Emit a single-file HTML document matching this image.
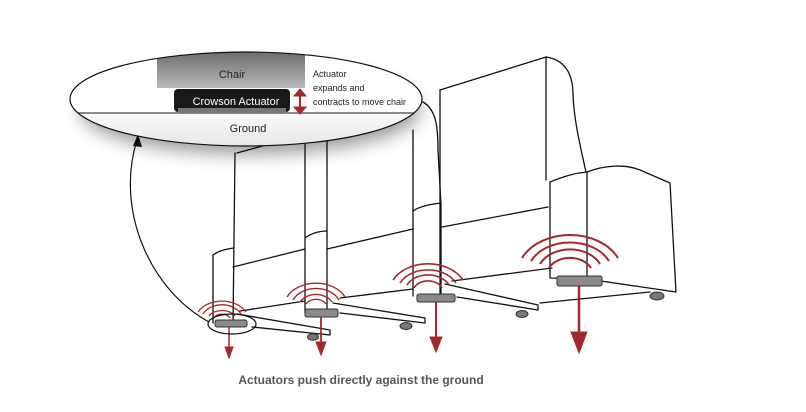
<!DOCTYPE html>
<html><head><meta charset="utf-8"><style>
html,body{margin:0;padding:0;background:#fff;width:806px;height:412px;overflow:hidden}
svg{display:block}
</style></head><body>
<svg width="806" height="412" viewBox="0 0 806 412" xmlns="http://www.w3.org/2000/svg" font-family="Liberation Sans, DejaVu Sans, sans-serif">
<defs>
<filter id="sh" x="-20%" y="-30%" width="140%" height="180%"><feGaussianBlur stdDeviation="9"/></filter>
<linearGradient id="gc" x1="0" y1="0" x2="0" y2="1"><stop offset="0" stop-color="#6a6a6a"/><stop offset="1" stop-color="#b8b8b8"/></linearGradient>
<linearGradient id="gg" x1="0" y1="0" x2="0" y2="1"><stop offset="0" stop-color="#fafafa"/><stop offset="1" stop-color="#dcdcdc"/></linearGradient>
</defs>

<!-- chair line art -->
<g fill="none" stroke="#111" stroke-width="1.3" stroke-linejoin="round" stroke-linecap="round">
  <!-- chair 4 back -->
  <path d="M440,90 L546,57 C566,60 573,75 573,95 C574,120 580,145 586,172"/>
  <path d="M546,57 L546,180"/>
  <path d="M440,90 L440,296"/>
  <!-- chair 4 seat -->
  <path d="M550,182 C565,176 575,173 587,172 C605,165 625,164 640,170 L670,183 L676,292 L587,279"/>
  <path d="M550,182 L550,278 L587,279 L587,172"/>
  <!-- chair 3 -->
  <path d="M423,102 C437,110 438,130 438,150 L441,205"/>
  <path d="M413,130 L413,296"/>
  <path d="M441,205 L441,296"/>
  <path d="M413,211 C420,206 432,204 441,203"/>
  <path d="M442,227 L548,207"/>
  <path d="M445,284 L538,305 L538,310 L457,297"/>
  <path d="M452,281 L552,268"/>
  <path d="M540,303 L650,292"/>
  <!-- chair 2 -->
  <path d="M305,140 L305,313"/>
  <path d="M327,130 L327,313"/>
  <path d="M305,238 C312,233 320,231 327,231"/>
  <path d="M327,249 L413,229"/>
  <path d="M333,303 L425,318 L425,323 L340,313"/>
  <path d="M340,298 L413,289"/>
  <!-- chair 1 -->
  <path d="M237,153 L273,143"/>
  <path d="M235,153 L233,325"/>
  <path d="M213,255 L213,323"/>
  <path d="M213,255 C220,250 227,249 234,248"/>
  <path d="M233,267 L305,249"/>
  <path d="M237,314 L330,330 L330,335 L252,327"/>
  <path d="M240,311 L305,301"/>
</g>

<!-- feet -->
<g fill="#8a8a8a" stroke="#333" stroke-width="1">
  <rect x="557" y="276" width="45" height="10" rx="2"/>
  <rect x="417" y="294" width="38" height="8" rx="2"/>
  <rect x="305" y="309" width="33" height="8" rx="2"/>
  <rect x="215" y="320" width="32" height="7" rx="2"/>
  <ellipse cx="657" cy="296" rx="7" ry="4" fill="#777"/>
  <ellipse cx="522" cy="314" rx="6" ry="3.5" fill="#777"/>
  <ellipse cx="406" cy="326" rx="6" ry="3.5" fill="#777"/>
  <ellipse cx="313" cy="337" rx="5.5" ry="3.2" fill="#777"/>
</g>

<!-- waves -->
<g fill="none" stroke="#a3282a">
  <g stroke-width="2">
    <path d="M522,258 A53,40 0 0 1 618,258"/>
    <path d="M531,261 A43,32 0 0 1 609,261"/>
    <path d="M540,264 A33,25 0 0 1 600,264"/>
    <path d="M549,268 A23,17 0 0 1 591,268"/>
  </g>
  <g stroke-width="1.6">
    <path d="M393,280 A39,29 0 0 1 463,280"/>
    <path d="M400,283 A31,23 0 0 1 456,283"/>
    <path d="M407,285 A23,17 0 0 1 449,285"/>
    <path d="M414,288 A15,11 0 0 1 442,288"/>
  </g>
  <g stroke-width="1.4">
    <path d="M287,297 A32,24 0 0 1 345,297"/>
    <path d="M293,300 A25,19 0 0 1 339,300"/>
    <path d="M300,302 A18,14 0 0 1 332,302"/>
    <path d="M306,304 A11,8 0 0 1 326,304"/>
  </g>
  <g stroke-width="1.3">
    <path d="M198,312 A27,20 0 0 1 246,312"/>
    <path d="M203,314 A21,16 0 0 1 241,314"/>
    <path d="M209,316 A15,11 0 0 1 235,316"/>
    <path d="M214,318 A9,7 0 0 1 230,318"/>
  </g>
</g>

<!-- arrows -->
<g stroke="#a3282a" fill="#a3282a">
  <line x1="579" y1="286" x2="579" y2="336" stroke-width="2.5"/><path d="M571,332 L587,332 L579,353 Z"/>
  <line x1="436" y1="302" x2="436" y2="340" stroke-width="2"/><path d="M430,337 L442,337 L436,352 Z"/>
  <line x1="321" y1="317" x2="321" y2="344" stroke-width="1.8"/><path d="M316,342 L326,342 L321,355 Z"/>
  <line x1="229" y1="327" x2="229" y2="350" stroke-width="1.5"/><path d="M225,347 L233,347 L229,358 Z"/>
</g>

<!-- small callout ellipse + curve -->
<ellipse cx="232" cy="324" rx="24" ry="10" fill="none" stroke="#111" stroke-width="1.2"/>
<path d="M209,322 C150,290 115,210 137,140" fill="none" stroke="#111" stroke-width="1.2"/>
<path d="M133,146 L138,134 L142,147 Z" fill="#111"/>

<!-- big callout -->
<ellipse cx="250" cy="110" rx="170" ry="44" fill="#000" opacity="0.4" filter="url(#sh)"/>
<clipPath id="ec"><ellipse cx="246" cy="99" rx="176" ry="47"/></clipPath>
<g clip-path="url(#ec)">
  <rect x="60" y="40" width="380" height="120" fill="#fff"/>
  <rect x="60" y="113" width="380" height="50" fill="url(#gg)"/>
  <line x1="60" y1="113" x2="440" y2="113" stroke="#444" stroke-width="1.2"/>
  <rect x="157" y="50" width="148" height="38" fill="url(#gc)"/>
  <rect x="174" y="89" width="116" height="23" rx="4" fill="#1a1a1a"/>
  <rect x="178" y="108" width="108" height="5" fill="#777"/>
</g>
<ellipse cx="246" cy="99" rx="176" ry="47" fill="none" stroke="#111" stroke-width="1.2"/>
<text x="232" y="78" font-size="11" fill="#222" text-anchor="middle">Chair</text>
<text x="236" y="105" font-size="11" fill="#fff" text-anchor="middle">Crowson Actuator</text>
<text x="248" y="132" font-size="11" fill="#222" text-anchor="middle">Ground</text>
<text font-size="9" fill="#222"><tspan x="313" y="77">Actuator</tspan><tspan x="313" y="91">expands and</tspan><tspan x="313" y="105">contracts to move chair</tspan></text>
<g fill="#a3282a" stroke="#a3282a">
  <line x1="300" y1="94" x2="300" y2="109" stroke-width="2"/>
  <path d="M294,96 L300,89 L306,96 Z M294,107 L300,114 L306,107 Z"/>
</g>

<text x="361" y="384" font-size="12" font-weight="bold" fill="#555" text-anchor="middle">Actuators push directly against the ground</text>
</svg>
</body></html>
